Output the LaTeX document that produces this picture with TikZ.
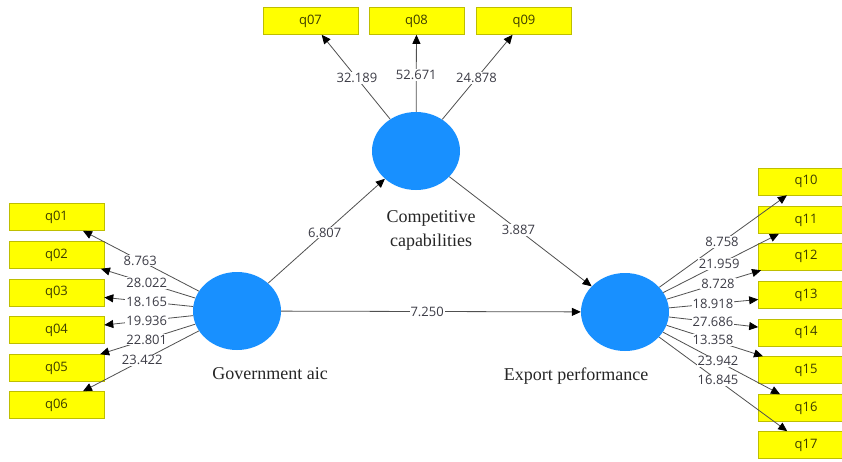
\documentclass[tikz,border=0pt]{standalone}
\usepackage{fontspec}
\newfontfamily\numfont{Open Sans}
\newfontfamily\serfont{Liberation Serif}
\usetikzlibrary{shapes.geometric,arrows.meta,calc}
\definecolor{lvblue}{RGB}{24,144,255}
\definecolor{boxyellow}{RGB}{255,255,0}
\definecolor{boxedge}{RGB}{190,190,0}
\definecolor{linegray}{RGB}{80,80,80}
\definecolor{numgray}{RGB}{60,60,70}
\definecolor{qtext}{RGB}{60,60,0}
\begin{document}
\begin{tikzpicture}[x=1pt,y=-1pt,
  latent/.style={ellipse,fill=lvblue,minimum width=88pt,minimum height=78pt,inner sep=0pt},
  ind/.style={rectangle,fill=boxyellow,draw=boxedge,line width=0.6pt,minimum width=95pt,minimum height=27pt,inner sep=0pt,font=\numfont\fontsize{13}{15}\selectfont,text=qtext},
  arr/.style={draw=linegray,line width=0.8pt,-{Triangle[length=9pt,width=8pt,color=black]}},
  lbl/.style={fill=white,inner sep=1pt,font=\numfont\fontsize{13}{15}\selectfont,text=numgray},
  lvtext/.style={font=\serfont\fontsize{18}{24}\selectfont,text=black!85,align=center}]
\useasboundingbox (0,0) rectangle (842,461);
\fill[white] (0,0) rectangle (842,461);
\clip (0,0) rectangle (842,461);

% latent variables
\node[latent] (cc) at (416,151) {};
\node[latent] (ga) at (237,311) {};
\node[latent] (ep) at (625,312) {};

\node[lvtext] (cct) at (431,230) {Competitive\\capabilities};
\node[lvtext] (gat) at (270,374) {Government aic};
\node[lvtext] (ept) at (576,376) {Export performance};

% indicators
\node[ind] (q07) at (310.5,21) {q07};
\node[ind] (q08) at (416.5,21) {q08};
\node[ind] (q09) at (524,21) {q09};

\node[ind] (q01) at (56.5,217) {q01};
\node[ind] (q02) at (56.5,255) {q02};
\node[ind] (q03) at (56.5,292.5) {q03};
\node[ind] (q04) at (56.5,330) {q04};
\node[ind] (q05) at (56.5,368) {q05};
\node[ind] (q06) at (56.5,405) {q06};

\node[ind] (q10) at (806,181.5) {q10};
\node[ind] (q11) at (806,220) {q11};
\node[ind] (q12) at (806,256.5) {q12};
\node[ind] (q13) at (806,295) {q13};
\node[ind] (q14) at (806,332.5) {q14};
\node[ind] (q15) at (806,370) {q15};
\node[ind] (q16) at (806,408) {q16};
\node[ind] (q17) at (806,445) {q17};

% connectors
\foreach \q in {q07,q08,q09} \draw[arr] (cc) -- (\q);
\foreach \q in {q01,q02,q03,q04,q05,q06} \draw[arr] (ga) -- (\q);
\foreach \q in {q10,q11,q12,q13,q14,q15,q16,q17} \draw[arr] (ep) -- (\q);
\draw[arr] (ga) -- (cc);
\draw[arr] (cc) -- (ep);
\draw[arr] (ga) -- (ep);

% labels
\node[lbl] at ($(cc.center)!0.56!(q07.center)$) {32.189};
\node[lbl] at ($(cc.center)!0.585!(q08.center)$) {52.671};
\node[lbl] at ($(cc.center)!0.56!(q09.center)$) {24.878};

\node[lbl] at ($(ga.center)!0.536!(q01.center)$) {8.763};
\node[lbl] at ($(ga.center)!0.5!(q02.center)$) {28.022};
\node[lbl] at ($(ga.center)!0.5!(q03.center)$) {18.165};
\node[lbl] at ($(ga.center)!0.5!(q04.center)$) {19.936};
\node[lbl] at ($(ga.center)!0.5!(q05.center)$) {22.801};
\node[lbl] at ($(ga.center)!0.525!(q06.center)$) {23.422};

\node[lbl] at ($(ep.center)!0.536!(q10.center)$) {8.758};
\node[lbl] at ($(ep.center)!0.52!(q11.center)$) {21.959};
\node[lbl] at ($(ep.center)!0.514!(q12.center)$) {8.728};
\node[lbl] at ($(ep.center)!0.486!(q13.center)$) {18.918};
\node[lbl] at ($(ep.center)!0.486!(q14.center)$) {27.686};
\node[lbl] at ($(ep.center)!0.486!(q15.center)$) {13.358};
\node[lbl] at ($(ep.center)!0.514!(q16.center)$) {23.942};
\node[lbl] at ($(ep.center)!0.514!(q17.center)$) {16.845};

\node[lbl] at ($(ga.center)!0.49!(cc.center)$) {6.807};
\node[lbl] at ($(cc.center)!0.49!(ep.center)$) {3.887};
\node[lbl] at ($(ga.center)!0.49!(ep.center)$) {7.250};
\end{tikzpicture}
\end{document}
